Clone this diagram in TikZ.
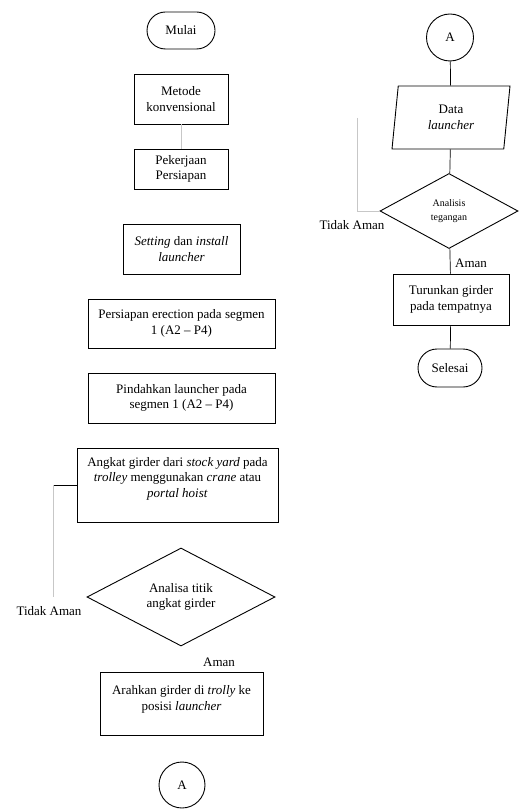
\documentclass[tikz,border=0pt]{standalone}
\usepackage{fontspec}
\setmainfont{Liberation Serif}
\usetikzlibrary{shapes.geometric,shapes.misc}

\tikzset{
  teks/.style={font=\fontsize{13}{15.5}\selectfont},
  kotak/.style={draw, line width=0.9pt, align=center, inner sep=2pt, teks},
  ujung/.style={draw, rounded rectangle, line width=0.9pt, inner sep=2pt, teks},
  belah/.style={draw, diamond, line width=0.9pt, align=center, inner sep=0pt, teks},
  bulat/.style={draw, circle, line width=0.9pt, inner sep=0pt, teks},
  garis/.style={line width=0.7pt},
  samar/.style={line width=0.6pt, black!22},
}

\begin{document}
\begin{tikzpicture}[x=1pt,y=1pt,yscale=-1,xscale=1]
\useasboundingbox (0,0) rectangle (520,810);

%Terminator [mulai]
\node (mulai) at (181,30.5) [ujung, minimum width=72, minimum height=37] {Mulai};
%Shape: Rectangle
\node (metode) at (181,99) [kotak, minimum width=94, minimum height=50] {Metode\\konvensional};
%Shape: Rectangle
\node (pekerjaan) at (181,169) [kotak, minimum width=94, minimum height=40] {Pekerjaan\\Persiapan};
%Shape: Rectangle
\node (setting) at (181.5,249) [kotak, minimum width=117, minimum height=50] {\textit{Setting} dan \textit{install}\\\textit{launcher}};
%Shape: Rectangle
\node (erection) at (181.5,323.5) [kotak, minimum width=187, minimum height=49] {Persiapan erection pada segmen\\1 (A2 – P4)};
%Shape: Rectangle
\node (pindahkan) at (181.5,398) [kotak, minimum width=187, minimum height=50] {Pindahkan launcher pada\\segmen 1 (A2 – P4)};
%Shape: Rectangle
\node (angkat) at (177.5,485) [kotak, minimum width=201, minimum height=74] {Angkat girder dari \textit{stock yard} pada\\\textit{trolley} menggunakan \textit{crane} atau\\\textit{portal hoist}\\\mbox{}};
%Shape: Diamond
\node (analisa) at (181,597) [belah, minimum width=188, minimum height=98] {Analisa titik\\angkat girder};
%Shape: Rectangle
\node (arahkan) at (181.5,703.5) [kotak, minimum width=163, minimum height=63] {Arahkan girder di \textit{trolly} ke\\posisi \textit{launcher}\\[-4pt]\mbox{}};
%Shape: Circle
\node (konA) at (182,785) [bulat, minimum size=46] {A};

%Shape: Circle
\node (konB) at (450,37.5) [bulat, minimum size=47] {A};
%Shape: Parallelogram
\node (data) at (451,117.5) [draw, trapezium, trapezium left angle=77.5, trapezium right angle=102.5, trapezium stretches body, line width=0.9pt, align=center, inner sep=2pt, minimum width=118, minimum height=63, teks] {Data\\\textit{launcher}};
%Shape: Diamond
\node (analisis) at (449,211) [belah, minimum width=138, minimum height=75, font=\fontsize{10}{14}\selectfont] {Analisis\\tegangan};
%Shape: Rectangle
\node (turunkan) at (451,299.5) [kotak, minimum width=116, minimum height=51] {Turunkan girder\\pada tempatnya};
%Terminator [selesai]
\node (selesai) at (450,368) [ujung, minimum width=68, minimum height=38] {Selesai};

% Text Node
\node (tidakkiri) at (49,611) [teks] {Tidak Aman};
% Text Node
\node (amankiri) at (219,662) [teks] {Aman};
% Text Node
\node (tidakkanan) at (352,225) [teks] {Tidak Aman};
% Text Node
\node (amankanan) at (471,263) [teks] {Aman};

\coordinate (belok1) at (53,485);
\coordinate (belok2) at (53,597);
\coordinate (balik) at (357,118);

%Straight Lines
\draw [samar] (metode) -- (pekerjaan);
\draw [garis] (angkat.west) -- (belok1);
\draw [samar] (belok1) -- (belok2);
\draw [samar] (balik) |- (analisis.west);
\draw [garis] (konB) -- (data);
\draw [garis] (data) -- (analisis);
\draw [garis] (analisis) -- (turunkan);
\draw [garis] (turunkan) -- (selesai);

\end{tikzpicture}
\end{document}
